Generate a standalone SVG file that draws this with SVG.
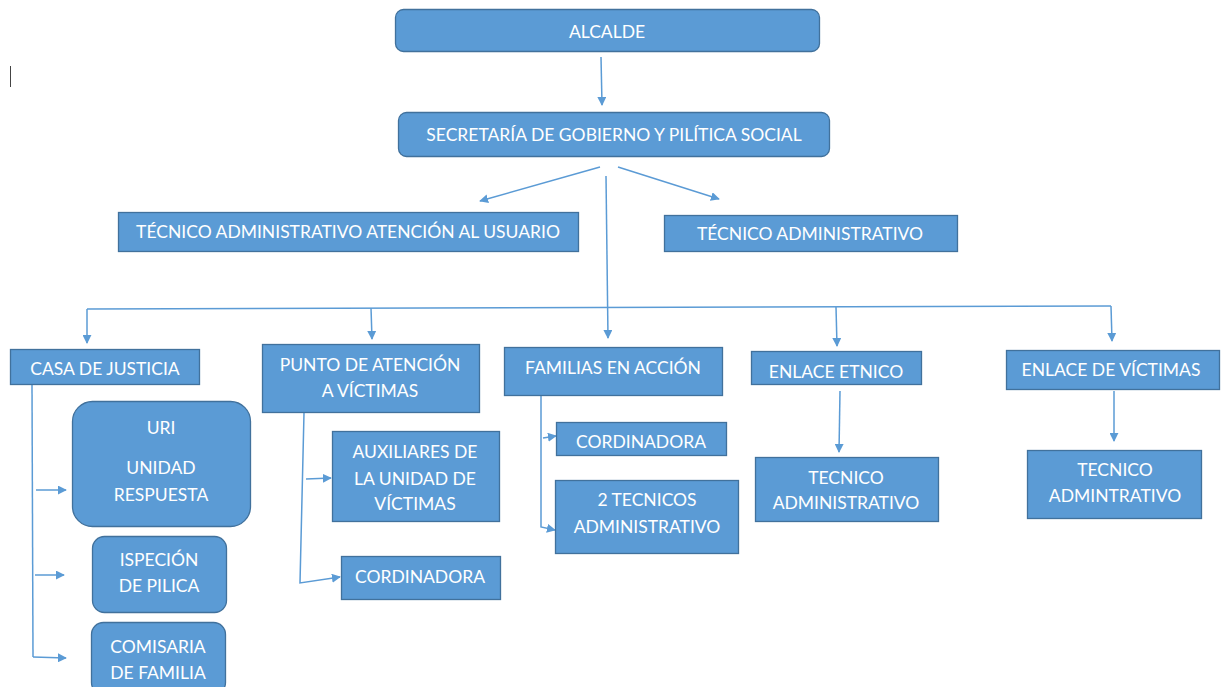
<svg xmlns="http://www.w3.org/2000/svg" width="1221" height="687" viewBox="0 0 1221 687">
<style>
.n{fill:#5B9BD5;stroke:#41719C;stroke-width:1.3}
.t{fill:#fff;font-family:Lato,"Open Sans","Liberation Sans",sans-serif;font-size:17.5px;text-anchor:middle;dominant-baseline:central}
.c{fill:none;stroke:#5B9BD5;stroke-width:1.5}
.a{marker-end:url(#ah)}
</style>
<defs>
<marker id="ah" viewBox="0 0 10 10" refX="9" refY="5" markerWidth="9" markerHeight="9" markerUnits="userSpaceOnUse" orient="auto">
<path d="M0,0 L10,5 L0,10 z" fill="#5B9BD5"/>
</marker>
</defs>
<rect width="1221" height="687" fill="#fff"/>
<line x1="10.5" y1="66" x2="10.5" y2="87" stroke="#444" stroke-width="1"/>
<g id="connectors">
<path class="c a" d="M601,57 L602,105"/>
<path class="c a" d="M600,167 L480,201"/>
<path class="c a" d="M618,167 L719,199"/>
<path class="c a" d="M606,176 L608,338"/>
<path class="c" d="M87,309 L1111,306"/>
<path class="c a" d="M87,309 L87,343"/>
<path class="c a" d="M371,308 L372,339"/>
<path class="c a" d="M836,307 L837,346"/>
<path class="c a" d="M1111,306 L1112,341"/>
<path class="c" d="M32,385 L33,657"/>
<path class="c a" d="M36,490 L66,490"/>
<path class="c a" d="M35,575 L64,575"/>
<path class="c a" d="M33,657 L66,658"/>
<path class="c a" d="M304,413 L300,583 L340,577"/>
<path class="c a" d="M306,479 L331,478"/>
<path class="c a" d="M541,396 L541,527 L555,530"/>
<path class="c a" d="M543,438 L556,436"/>
<path class="c a" d="M840,391 L839,452"/>
<path class="c a" d="M1114,391 L1114,441"/>
</g>
<g id="alcalde"><rect class="n" x="395.5" y="9.5" width="424" height="42" rx="8"/><text class="t" x="607" y="31">ALCALDE</text></g>
<g id="secretaria"><rect class="n" x="398.5" y="112.5" width="431" height="44" rx="8"/><text class="t" x="614" y="134">SECRETARÍA DE GOBIERNO Y PILÍTICA SOCIAL</text></g>
<g id="tecnico-atencion"><rect class="n" x="118.5" y="212.5" width="460" height="39"/><text class="t" x="348" y="231">TÉCNICO ADMINISTRATIVO ATENCIÓN AL USUARIO</text></g>
<g id="tecnico-admin"><rect class="n" x="664.5" y="215.5" width="293" height="36"/><text class="t" x="810" y="233">TÉCNICO ADMINISTRATIVO</text></g>
<g id="casa-justicia"><rect class="n" x="10.5" y="349.5" width="189" height="35"/><text class="t" x="105" y="368">CASA DE JUSTICIA</text></g>
<g id="punto-atencion"><rect class="n" x="262.5" y="344.5" width="217" height="68"/><text class="t" x="370" y="364">PUNTO DE ATENCIÓN</text><text class="t" x="370" y="390">A VÍCTIMAS</text></g>
<g id="familias-accion"><rect class="n" x="504.5" y="347.5" width="218" height="48"/><text class="t" x="613" y="367">FAMILIAS EN ACCIÓN</text></g>
<g id="enlace-etnico"><rect class="n" x="751.5" y="351.5" width="170" height="33"/><text class="t" x="836" y="371">ENLACE ETNICO</text></g>
<g id="enlace-victimas"><rect class="n" x="1006.5" y="350.5" width="213" height="39"/><text class="t" x="1111" y="369">ENLACE DE VÍCTIMAS</text></g>
<g id="uri"><rect class="n" x="72.5" y="401.5" width="178" height="125" rx="20"/><text class="t" x="161" y="427">URI</text><text class="t" x="161" y="467">UNIDAD</text><text class="t" x="161" y="494">RESPUESTA</text></g>
<g id="ispeccion"><rect class="n" x="92.5" y="536.5" width="134" height="76" rx="12"/><text class="t" x="159" y="559">ISPECIÓN</text><text class="t" x="159" y="585">DE PILICA</text></g>
<g id="comisaria"><rect class="n" x="91.5" y="622.5" width="134" height="72" rx="12"/><text class="t" x="158" y="646">COMISARIA</text><text class="t" x="158" y="672">DE FAMILIA</text></g>
<g id="auxiliares"><rect class="n" x="332.5" y="431.5" width="167" height="90"/><text class="t" x="415" y="451">AUXILIARES DE</text><text class="t" x="415" y="478">LA UNIDAD DE</text><text class="t" x="415" y="503">VÍCTIMAS</text></g>
<g id="cordinadora-punto"><rect class="n" x="341.5" y="556.5" width="159" height="43"/><text class="t" x="420" y="576">CORDINADORA</text></g>
<g id="cordinadora-familias"><rect class="n" x="556.5" y="422.5" width="170" height="33"/><text class="t" x="641" y="441">CORDINADORA</text></g>
<g id="dos-tecnicos"><rect class="n" x="555.5" y="480.5" width="183" height="73"/><text class="t" x="647" y="499">2 TECNICOS</text><text class="t" x="647" y="526">ADMINISTRATIVO</text></g>
<g id="tecnico-etnico"><rect class="n" x="755.5" y="457.5" width="183" height="64"/><text class="t" x="846" y="477">TECNICO</text><text class="t" x="846" y="502">ADMINISTRATIVO</text></g>
<g id="tecnico-victimas"><rect class="n" x="1027.5" y="450.5" width="174" height="68"/><text class="t" x="1115" y="469">TECNICO</text><text class="t" x="1115" y="495">ADMINTRATIVO</text></g>
</svg>
